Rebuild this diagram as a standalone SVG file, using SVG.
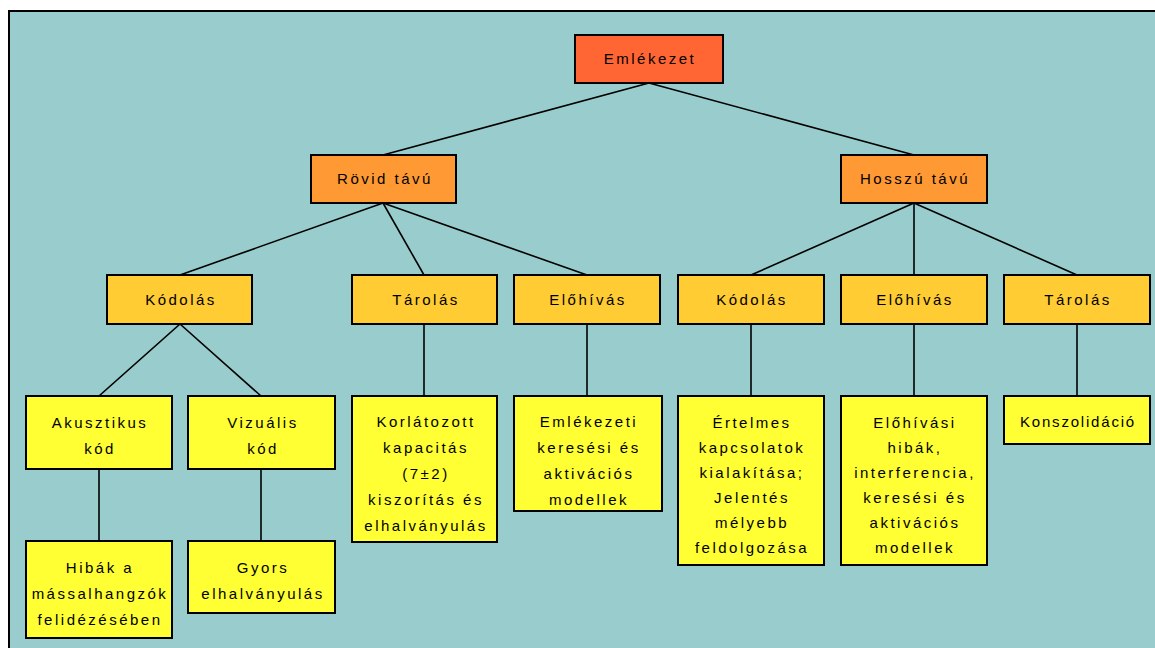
<svg xmlns="http://www.w3.org/2000/svg" width="1155" height="648" viewBox="0 0 1155 648">
<style>
.box{stroke:#000;stroke-width:2}
.c0{fill:#FF6633}.c1{fill:#FF9933}.c2{fill:#FFCC33}.c3{fill:#FFFF33}
text{font-family:"Liberation Sans",Arial,sans-serif;font-size:15px;fill:#000;text-anchor:middle;letter-spacing:2.5px}
#connectors line{stroke:#000;stroke-width:1.6}
</style>
<rect x="0" y="0" width="1155" height="648" fill="#fff"/>
<rect x="9" y="11" width="1160" height="660" fill="#99CCCC" stroke="#000" stroke-width="2"/>
<g id="connectors">
<line x1="649" y1="83" x2="383" y2="155"/>
<line x1="649" y1="83" x2="914" y2="155"/>
<line x1="383" y1="203" x2="180" y2="275"/>
<line x1="383" y1="203" x2="424" y2="275"/>
<line x1="383" y1="203" x2="587" y2="275"/>
<line x1="914" y1="203" x2="751" y2="275"/>
<line x1="914" y1="203" x2="914" y2="275"/>
<line x1="914" y1="203" x2="1077" y2="275"/>
<line x1="180" y1="324" x2="99" y2="396"/>
<line x1="180" y1="324" x2="261" y2="396"/>
<line x1="99" y1="469" x2="99" y2="541"/>
<line x1="261" y1="469" x2="261" y2="541"/>
<line x1="424" y1="324" x2="424" y2="396"/>
<line x1="587" y1="324" x2="587" y2="396"/>
<line x1="751" y1="324" x2="751" y2="396"/>
<line x1="914" y1="324" x2="914" y2="396"/>
<line x1="1077" y1="324" x2="1077" y2="396"/>
</g>
<g id="emlekezet"><rect class="box c0" x="575" y="35" width="148" height="48"/><text x="650" y="64">Emlékezet</text></g>
<g id="rovid"><rect class="box c1" x="311" y="155" width="145" height="48"/><text x="385" y="184">Rövid távú</text></g>
<g id="hosszu"><rect class="box c1" x="841" y="155" width="146" height="48"/><text x="915" y="184">Hosszú távú</text></g>
<g id="kodolas1"><rect class="box c2" x="107" y="275" width="145" height="49"/><text x="181" y="305">Kódolás</text></g>
<g id="tarolas1"><rect class="box c2" x="352" y="275" width="145" height="49"/><text x="426" y="305">Tárolás</text></g>
<g id="elohivas1"><rect class="box c2" x="514" y="275" width="146" height="49"/><text x="588" y="305">Előhívás</text></g>
<g id="kodolas2"><rect class="box c2" x="678" y="275" width="146" height="49"/><text x="752" y="305">Kódolás</text></g>
<g id="elohivas2"><rect class="box c2" x="841" y="275" width="146" height="49"/><text x="915" y="305">Előhívás</text></g>
<g id="tarolas2"><rect class="box c2" x="1004" y="275" width="146" height="49"/><text x="1078" y="305">Tárolás</text></g>
<g id="akusztikus"><rect class="box c3" x="26" y="396" width="146" height="73"/><text x="100" y="428">Akusztikus</text><text x="100" y="454">kód</text></g>
<g id="vizualis"><rect class="box c3" x="188" y="396" width="147" height="73"/><text x="263" y="428">Vizuális</text><text x="263" y="454">kód</text></g>
<g id="hibak"><rect class="box c3" x="26" y="541" width="146" height="97"/><text x="100" y="573">Hibák a</text><text x="100" y="599">mássalhangzók</text><text x="100" y="625">felidézésében</text></g>
<g id="gyors"><rect class="box c3" x="188" y="541" width="147" height="72"/><text x="263" y="573">Gyors</text><text x="263" y="599">elhalványulás</text></g>
<g id="korlatozott"><rect class="box c3" x="352" y="396" width="145" height="146"/><text x="426" y="427">Korlátozott</text><text x="426" y="453">kapacitás</text><text x="426" y="479">(7±2)</text><text x="426" y="505">kiszorítás és</text><text x="426" y="531">elhalványulás</text></g>
<g id="emlekezeti"><rect class="box c3" x="514" y="396" width="148" height="115"/><text x="589" y="427">Emlékezeti</text><text x="589" y="453">keresési és</text><text x="589" y="479">aktivációs</text><text x="589" y="505">modellek</text></g>
<g id="ertelmes"><rect class="box c3" x="678" y="396" width="146" height="169"/><text x="752" y="428">Értelmes</text><text x="752" y="453">kapcsolatok</text><text x="752" y="478">kialakítása;</text><text x="752" y="503">Jelentés</text><text x="752" y="528">mélyebb</text><text x="752" y="553">feldolgozása</text></g>
<g id="elohivasi"><rect class="box c3" x="841" y="396" width="146" height="169"/><text x="915" y="428">Előhívási</text><text x="915" y="453">hibák,</text><text x="915" y="478">interferencia,</text><text x="915" y="503">keresési és</text><text x="915" y="528">aktivációs</text><text x="915" y="553">modellek</text></g>
<g id="konszolidacio"><rect class="box c3" x="1004" y="396" width="146" height="48"/><text x="1078" y="427" style="letter-spacing:1.8px">Konszolidáció</text></g>
</svg>
